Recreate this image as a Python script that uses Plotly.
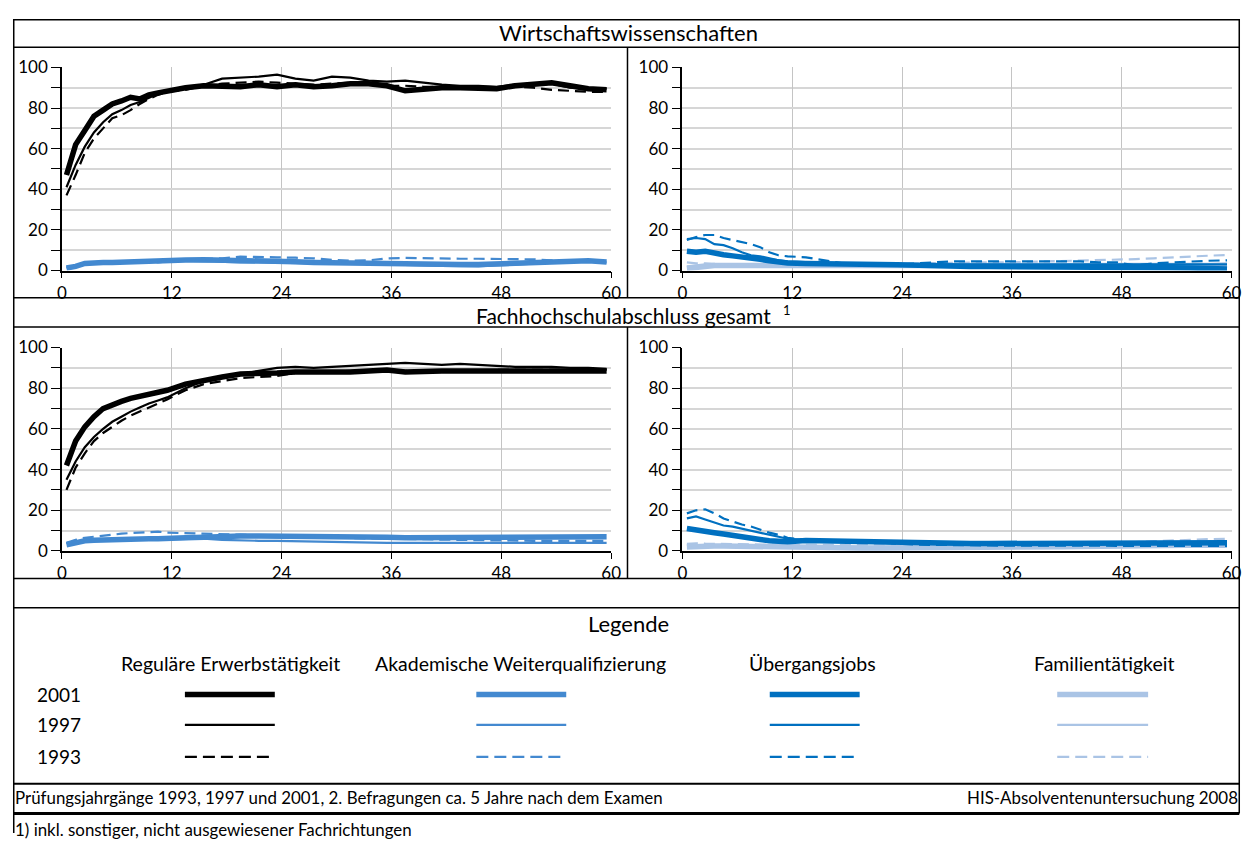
import plotly.graph_objects as go

# ---------------- data ----------------
months = [0.5, 1.5, 2.5, 3.5, 4.5, 5.5, 6.5, 7.5, 8.5, 9.5, 10.5, 11.5,
          13.5, 15.5, 17.5, 19.5, 21.5, 23.5, 25.5, 27.5, 29.5, 31.5, 33.5, 35.5,
          37.5, 39.5, 41.5, 43.5, 45.5, 47.5, 49.5, 51.5, 53.5, 55.5, 57.5, 59.5]
x_ticks = [0, 12, 24, 36, 48, 60]
y_ticks = [0, 20, 40, 60, 80, 100]

years = ["2001", "1997", "1993"]
categories = ["Reguläre Erwerbstätigkeit", "Akademische Weiterqualifizierung",
              "Übergangsjobs", "Familientätigkeit"]
section_titles = ["Wirtschaftswissenschaften", "Fachhochschulabschluss gesamt"]
footnote_mark = "1"

# Wirtschaftswissenschaften
wiwi_reg_2001 = [47, 62, 69, 76, 79, 82, 83.5, 85.3, 84.5, 86.5, 87.5, 88.5, 90, 91, 91, 90.5, 91.5, 90.5,
                 91.5, 90.5, 91, 92, 92, 91, 88.5, 89.5, 90, 90, 90, 89.5, 91, 92, 92.5, 91, 89.5, 89]
wiwi_reg_1997 = [41, 52, 61, 68, 73, 77, 79, 81.5, 83, 85, 87, 88.5, 90, 91.5, 94.5, 95, 95.5, 96.5,
                 94.5, 93.5, 95.5, 95, 93.5, 93, 93.5, 92.5, 91.5, 91, 91, 90.5, 91.5, 91.5, 92, 90, 89.5, 89.5]
wiwi_reg_1993 = [37, 47, 58, 65, 70, 75, 76.5, 79, 82, 84.5, 86.5, 88, 89, 91, 92, 92.5, 93, 92.5,
                 92, 91.5, 92, 92.5, 91.5, 91, 91, 90.5, 90.5, 90, 90.5, 90, 90.5, 90, 89, 88.5, 88, 88]
wiwi_akad_2001 = [1.2, 2.0, 3.5, 4.0, 4.0, 4.0, 4.2, 4.3, 4.6, 4.8, 5.0, 5.0, 5.2, 5.3, 5.2, 5.0, 4.5, 4.3,
                  4.3, 4.0, 3.8, 3.6, 3.5, 3.5, 3.3, 3.0, 3.0, 3.0, 2.9, 3.2, 3.5, 4.0, 4.2, 4.6, 4.8, 4.2]
wiwi_akad_1997 = [1.5, 2.5, 3.5, 3.8, 3.6, 3.8, 4.0, 4.4, 5.0, 5.0, 4.0, 4.5, 4.8, 4.5, 4.0, 4.0, 4.0, 3.8,
                  3.8, 3.5, 3.5, 3.3, 3.3, 3.0, 3.0, 2.5, 2.3, 2.2, 2.0, 2.5, 3.0, 3.5, 3.8, 4.2, 4.5, 4.0]
wiwi_akad_1993 = [1.5, 2.5, 3.5, 3.8, 4.0, 4.2, 4.3, 4.5, 4.8, 5.0, 5.0, 5.2, 5.5, 5.7, 6.0, 6.8, 6.8, 6.5,
                  6.3, 6.0, 5.2, 4.8, 5.0, 6.0, 6.2, 6.0, 6.0, 5.8, 5.8, 5.8, 5.8, 5.5, 5.0, 5.0, 5.0, 4.8]
wiwi_ueb_2001 = [9.5, 9, 9.5, 8.5, 7.8, 7.2, 6.8, 6.2, 5.5, 4.8, 4.2, 3.7, 3.5, 3.5, 3.3, 3.0, 2.9, 2.8,
                 2.5, 2.2, 2.0, 2.0, 2.0, 2.0, 2.0, 2.0, 2.0, 2.0, 2.0, 2.0, 1.8, 1.6, 1.4, 1.2, 1.0, 0.8]
wiwi_ueb_1997 = [15.5, 16, 15.5, 13, 12.5, 11, 9, 7.5, 7, 6, 5, 4.5, 4, 3.5, 3.3, 3.0, 3.0, 3.0,
                 3.0, 3.0, 3.0, 3.0, 3.0, 3.0, 3.0, 3.0, 3.0, 3.0, 2.8, 2.8, 2.8, 2.8, 2.8, 2.8, 2.8, 3.0]
wiwi_ueb_1993 = [15, 16.5, 17.5, 17.5, 16, 15, 14, 13, 11.5, 9, 7.5, 7, 6.5, 5, 3.5, 3.2, 3, 3,
                 3.5, 4, 4.5, 4.5, 4.5, 4.5, 4.5, 4.5, 4.5, 4.5, 4, 4, 2.5, 3.5, 4, 4.5, 4.8, 5]
wiwi_fam_2001 = [1, 1.5, 2.5, 2.5, 2.5, 2.5, 2.5, 2.5, 2.5, 2.5, 2.5, 2.3, 2.2, 2.0, 2.0, 2.0, 2.0, 2.0,
                 2.0, 2.0, 2.2, 2.2, 2.2, 2.2, 2.2, 2.2, 2.2, 2.2, 2.2, 2.2, 2.3, 2.3, 2.4, 2.5, 2.5, 2.5]
wiwi_fam_1997 = [2, 2.5, 3, 3, 3, 3, 3, 3, 3, 3, 3, 2.8, 2.8, 2.5, 2.5, 2.5, 2.5, 2.5,
                 2.8, 3, 3, 3, 3, 3, 3, 3, 3, 3, 3, 3, 3, 3, 3, 3, 3.2, 3.5]
wiwi_fam_1993 = [4, 3.5, 3.5, 3.2, 3, 3, 3, 3, 3, 3, 3, 3, 3, 3, 3, 3, 3, 3,
                 3.3, 3.6, 3.8, 4, 4, 4, 4.2, 4.4, 4.6, 4.8, 5, 5.2, 5.6, 6, 6.5, 7, 7.3, 7.6]

# Fachhochschulabschluss gesamt
fh_reg_2001 = [42, 54, 61, 66, 70, 72, 73.5, 75, 76, 77.5, 78.5, 79, 82, 84, 85.5, 87, 87, 87.5,
               88, 88, 87.5, 88, 88.5, 89, 88, 88.5, 88.5, 88.5, 88.5, 88.5, 88.5, 88.5, 88, 88, 88, 88.5]
fh_reg_1997 = [35, 44, 51, 56, 60, 63.5, 66, 68.5, 70.5, 72.5, 74, 75.5, 80, 83.5, 86, 87, 88.5, 90,
               90.5, 90, 90.5, 91, 91.5, 92, 92.5, 92, 91.5, 92, 91.5, 91, 90.5, 90.5, 90.5, 90, 90, 89.5]
fh_reg_1993 = [30, 41, 48, 54, 58, 61, 64, 66.5, 68.5, 70.5, 72.5, 74.5, 79, 82, 83.5, 85, 85.5, 86,
               87.5, 87.5, 88, 88.5, 88.5, 89, 88.5, 88.5, 88.5, 88.5, 88.5, 89, 89, 89, 89, 89, 89.5, 89]
fh_akad_2001 = [3, 4, 5, 5.3, 5.5, 5.5, 5.6, 5.7, 5.8, 6, 6, 6, 6.5, 6.8, 7.2, 7.3, 7.3, 7.3,
                7.2, 7.3, 7, 7, 6.8, 6.8, 6.5, 6.5, 6.6, 6.5, 6.6, 6.8, 6.8, 6.8, 6.9, 7, 7, 7]
fh_akad_1997 = [4, 4.5, 5, 5.2, 5.2, 5.3, 5.3, 5.4, 5.5, 5.5, 5.5, 5.6, 5.8, 6, 5.5, 5.2, 5, 5,
                4.8, 4.6, 4.5, 4.3, 4.2, 4, 4, 4, 4, 4, 4, 4, 4, 4, 3.8, 3.8, 3.9, 4]
fh_akad_1993 = [4, 5.5, 6.5, 7, 7.8, 8, 8.5, 8.8, 9, 9.3, 9.5, 9, 8.8, 8.5, 8.2, 8, 7.6, 7.3,
                7, 6.8, 6.6, 6.4, 6.2, 6, 5.8, 5.6, 5.5, 5.4, 5.3, 5.2, 5, 5, 5, 5, 5, 5]
fh_ueb_2001 = [11, 10.5, 9.7, 9, 8.3, 7.5, 6.8, 6.2, 5.6, 5, 4.6, 4.5, 5.2, 5, 5, 4.8, 4.3, 4,
               3.8, 3.8, 3.8, 3.7, 3.7, 3.7, 3.7, 3.7, 3.8, 3.8, 3.8, 3.8, 3.9, 3.9, 3.9, 4, 4, 4]
fh_ueb_1997 = [16, 17, 15.5, 14, 12.5, 12, 11, 10, 9, 8, 7, 6, 5.5, 5, 4.8, 4.5, 4.3, 4,
               3.8, 3.7, 3.7, 3.7, 3.7, 3.8, 3.8, 3.9, 4, 4, 4.2, 4.3, 4.4, 4.5, 4.5, 4.5, 4.5, 4.5]
fh_ueb_1993 = [18.5, 20, 20.5, 18.5, 16, 14.5, 13, 12, 10.5, 9, 8, 6.5, 5.5, 5, 4.5, 4.2, 4, 3.5,
               3.2, 3, 3, 2.8, 2.7, 2.6, 2.6, 2.6, 2.6, 2.6, 2.6, 2.6, 2.6, 2.6, 2.5, 2.5, 2.5, 2.5]
fh_fam_2001 = [2, 2.3, 2.5, 2.5, 2.4, 2.3, 2.2, 2.2, 2.1, 2, 2, 2, 1.8, 1.7, 1.6, 1.5, 1.5, 1.5,
               1.6, 1.7, 1.8, 1.9, 2, 2, 2, 2, 2.1, 2.2, 2.3, 2.4, 2.5, 2.6, 2.7, 2.8, 2.9, 3]
fh_fam_1997 = [3, 3, 2.8, 2.6, 2.5, 2.4, 2.3, 2.2, 2.2, 2.1, 2, 2, 2, 2, 2, 2, 2, 2,
               2, 2, 2, 2, 2, 2, 2, 2, 2, 2, 2, 2, 2, 2, 2, 2, 2, 2]
fh_fam_1993 = [3.5, 3.8, 3.6, 3.5, 3.4, 3.3, 3.2, 3.2, 3.1, 3, 3, 3, 3, 3, 3, 3, 3, 3,
               3, 3, 3, 3, 3, 3, 3, 3.2, 3.4, 3.6, 3.8, 4, 4.4, 4.8, 5.2, 5.5, 5.8, 6]

# ---------------- styles ----------------
# The page body keeps the browser's default 8px margin, so the figure is sized to
# fit the 1258x851 window exactly and window coordinates are offset by 8px.
OX, OY = 8, 8
FW, FH = 1242, 835
FONT = "Lato"
cat_colors = {"Reguläre Erwerbstätigkeit": "#000000",
              "Akademische Weiterqualifizierung": "#4389d0",
              "Übergangsjobs": "#0070c0",
              "Familientätigkeit": "#aac4e5"}
year_style = {"2001": dict(width=5.5, dash="solid"),
              "1997": dict(width=2.2, dash="solid"),
              "1993": dict(width=2.2, dash="11px,6px")}


def px(x):
    return (x - OX) / FW


def py(y):
    return 1 - (y - OY) / FH


def cx(x, half=0.75):
    return min(max(px(x), half / FW), 1 - half / FW)


def cy(y, half=0.75):
    return min(max(py(y), half / FH), 1 - half / FH)


panels = [
    ("", {"Akademische Weiterqualifizierung": [wiwi_akad_2001, wiwi_akad_1997, wiwi_akad_1993],
          "Reguläre Erwerbstätigkeit": [wiwi_reg_2001, wiwi_reg_1997, wiwi_reg_1993]}),
    ("2", {"Familientätigkeit": [wiwi_fam_2001, wiwi_fam_1997, wiwi_fam_1993],
           "Übergangsjobs": [wiwi_ueb_2001, wiwi_ueb_1997, wiwi_ueb_1993]}),
    ("3", {"Akademische Weiterqualifizierung": [fh_akad_2001, fh_akad_1997, fh_akad_1993],
           "Reguläre Erwerbstätigkeit": [fh_reg_2001, fh_reg_1997, fh_reg_1993]}),
    ("4", {"Familientätigkeit": [fh_fam_2001, fh_fam_1997, fh_fam_1993],
           "Übergangsjobs": [fh_ueb_2001, fh_ueb_1997, fh_ueb_1993]}),
]

fig = go.Figure()
for axid, series in panels:
    for cat, vals in series.items():
        for yr, ys in zip(years, vals):
            st = year_style[yr]
            fig.add_trace(go.Scatter(
                x=months, y=ys, mode="lines", xaxis="x" + axid, yaxis="y" + axid,
                line=dict(color=cat_colors[cat], width=st["width"], dash=st["dash"]),
                showlegend=False, hoverinfo="skip"))

left_dom = [px(57.5), px(613.5)]
right_dom = [px(685.5), px(1241.5)]
top_dom = [py(266), py(57.7)]
bot_dom = [py(553.7), py(345)]

xcommon = dict(range=[0, 60], tickvals=x_ticks, showgrid=True, gridcolor="#c4c4c4", gridwidth=1,
               showline=True, linecolor="black", linewidth=1.5, ticks="outside", ticklen=6,
               tickcolor="black", tickfont=dict(family=FONT, size=17, color="black"),
               zeroline=False, fixedrange=True)
ycommon = dict(range=[0, 100], tickvals=y_ticks, showgrid=True,
               gridcolor="#d6d6d6", gridwidth=1.5, showline=True, linecolor="black", linewidth=1.5,
               ticks="outside", ticklen=9, tickcolor="black",
               minor=dict(dtick=10, ticks="outside", ticklen=9, tickcolor="black",
                          showgrid=True, gridcolor="#d6d6d6", gridwidth=1.5),
               tickfont=dict(family=FONT, size=17, color="black"), zeroline=False, fixedrange=True)

layout = dict(width=FW, height=FH, margin=dict(l=0, r=0, t=0, b=0),
              paper_bgcolor="white", plot_bgcolor="white", showlegend=False,
              font=dict(family=FONT, color="black"))
for axid, xd, yd in [("", left_dom, top_dom), ("2", right_dom, top_dom),
                     ("3", left_dom, bot_dom), ("4", right_dom, bot_dom)]:
    layout["xaxis" + axid] = dict(xcommon, domain=xd, anchor="y" + axid)
    layout["yaxis" + axid] = dict(ycommon, domain=yd, anchor="x" + axid)
fig.update_layout(**layout)

# ---------------- frame lines ----------------
shapes = []


def hline(y, x0=2, x1=1256.5, w=1.5):
    shapes.append(dict(type="line", xref="paper", yref="paper", x0=cx(x0), x1=cx(x1),
                       y0=cy(y, w / 2), y1=cy(y, w / 2), line=dict(color="black", width=w)))


def vline(x, y0, y1, w=1.5):
    shapes.append(dict(type="line", xref="paper", yref="paper", x0=cx(x, w / 2), x1=cx(x, w / 2),
                       y0=cy(y0, 0), y1=cy(y1, 0), line=dict(color="black", width=w)))


for y in [7, 37, 294, 324, 582, 612]:
    hline(y)
hline(792.5, w=2)
hline(823, w=3)
vline(2, 7, 851)
vline(1256.5, 7, 823)
vline(630, 37, 294)
vline(630, 324, 582)

leg_x = {"Reguläre Erwerbstätigkeit": (182, 273), "Akademische Weiterqualifizierung": (477, 568),
         "Übergangsjobs": (774, 865), "Familientätigkeit": (1065, 1157)}
leg_y = {"2001": 701, "1997": 732, "1993": 765}
for cat in categories:
    for yr in years:
        st = year_style[yr]
        x0, x1 = leg_x[cat]
        shapes.append(dict(type="line", xref="paper", yref="paper", x0=px(x0), x1=px(x1),
                           y0=py(leg_y[yr]), y1=py(leg_y[yr]),
                           line=dict(color=cat_colors[cat], width=st["width"],
                                     dash="12px,6px" if yr == "1993" else "solid")))
fig.update_layout(shapes=shapes)

# ---------------- texts ----------------
ann = []


def text(s, x, y, size, xanchor="center"):
    ann.append(dict(text=s, x=px(x), y=py(y), xref="paper", yref="paper", showarrow=False,
                    xanchor=xanchor, yanchor="middle",
                    font=dict(family=FONT, size=size, color="black")))


text(section_titles[0], 631, 22, 22)
text(section_titles[1], 626, 312, 21)
text(footnote_mark, 791, 306, 13)
text("Legende", 631, 628, 22)
head_x = {"Reguläre Erwerbstätigkeit": 228, "Akademische Weiterqualifizierung": 522,
          "Übergangsjobs": 817, "Familientätigkeit": 1112}
for cat in categories:
    text(cat, head_x[cat], 669, 19.5)
for yr in years:
    text(yr, 30, leg_y[yr] - 0.5, 19, xanchor="left")
text("Prüfungsjahrgänge 1993, 1997 und 2001, 2. Befragungen ca. 5 Jahre nach dem Examen", 8, 807, 16.9,
     xanchor="left")
text("HIS-Absolventenuntersuchung 2008", 1250, 807, 16.9, xanchor="right")
text("1) inkl. sonstiger, nicht ausgewiesener Fachrichtungen", 8, 839, 16.9, xanchor="left")
fig.update_layout(annotations=ann)

fig.write_html("out.html", config={"displayModeBar": False})
